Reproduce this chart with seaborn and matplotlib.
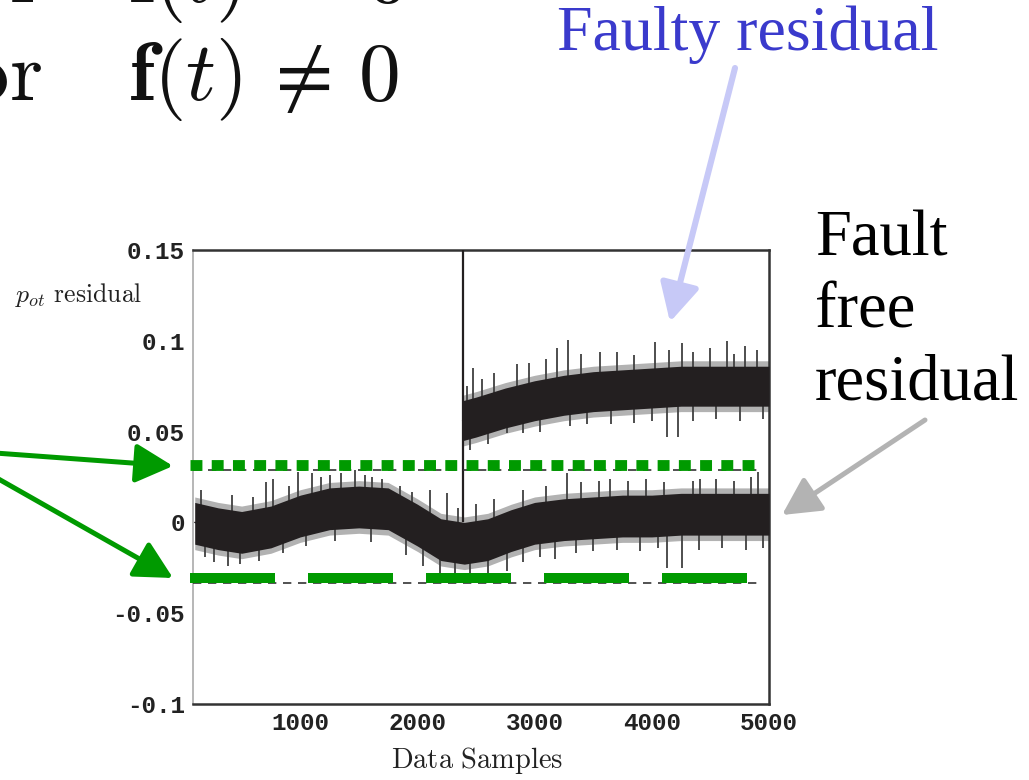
import numpy as np
import pandas as pd
import matplotlib
matplotlib.use("Agg")
import matplotlib.pyplot as plt
import seaborn as sns

# ---------------- data ----------------
t_ff = [100, 300, 500, 750, 1000, 1250, 1500, 1750, 2000, 2200, 2400, 2600, 2800,
        3000, 3250, 3500, 3750, 4000, 4250, 4500, 4750, 5000]
ff_mean = [0.000, -0.003, -0.005, -0.002, 0.004, 0.008, 0.009, 0.008, -0.001, -0.009,
           -0.011, -0.009, -0.004, 0.000, 0.002, 0.003, 0.004, 0.004, 0.005, 0.005, 0.005, 0.005]
ff_upper = [0.011, 0.008, 0.006, 0.009, 0.015, 0.019, 0.020, 0.019, 0.010, 0.002,
            0.000, 0.002, 0.007, 0.011, 0.013, 0.014, 0.015, 0.015, 0.016, 0.016, 0.016, 0.016]
ff_lower = [-0.012, -0.015, -0.017, -0.014, -0.008, -0.004, -0.003, -0.004, -0.013, -0.021,
            -0.023, -0.021, -0.016, -0.012, -0.010, -0.009, -0.008, -0.008, -0.007, -0.007, -0.007, -0.007]

t_fa = [2385, 2500, 2750, 3000, 3250, 3500, 3750, 4000, 4250, 4500, 4750, 5000]
fa_mean = [0.056, 0.058, 0.063, 0.067, 0.070, 0.072, 0.073, 0.074, 0.075, 0.075, 0.075, 0.075]
fa_upper = [0.067, 0.069, 0.074, 0.078, 0.081, 0.083, 0.084, 0.085, 0.086, 0.086, 0.086, 0.086]
fa_lower = [0.045, 0.047, 0.052, 0.056, 0.059, 0.061, 0.062, 0.063, 0.064, 0.064, 0.064, 0.064]

# visible spikes (sample, value)
ff_spike_t = [187, 486, 708, 768, 982, 1101, 1255, 1468, 1614, 2109, 2194, 2254, 2767,
              3176, 3279, 3646, 4133, 4261, 4415, 4910,
              150, 420, 600, 900, 1180, 1350, 1550, 1700, 1850, 1950, 2350, 2500, 2650, 2900,
              3100, 3400, 3550, 3800, 3950, 4100, 4350, 4550, 4700, 4850,
              260, 380, 650, 850, 1050, 1300, 1600, 1900, 2050, 2320, 2450, 2600, 2900, 3050,
              3350, 3500, 3700, 3900, 4050, 4400, 4600, 4800, 4950]
ff_spike_v = [-0.019, -0.023, 0.022, 0.024, 0.028, 0.027, 0.026, 0.029, 0.025, 0.018, -0.028,
              0.016, -0.027, -0.020, 0.027, 0.024, -0.025, -0.025, 0.024, 0.028,
              0.018, 0.015, 0.014, 0.020, 0.025, 0.027, 0.026, 0.024, 0.020, 0.017, 0.008, 0.010,
              0.013, 0.018, 0.020, 0.022, 0.023, 0.023, 0.024, 0.022, 0.023, 0.024, 0.023, 0.025,
              -0.022, -0.024, -0.021, -0.017, -0.013, -0.010, -0.011, -0.018, -0.024, -0.030,
              -0.030, -0.028, -0.022, -0.019, -0.017, -0.016, -0.015, -0.016, -0.014, -0.015,
              -0.014, -0.015, -0.014]

fa_spike_t = [2476, 2767, 3194, 3287, 3561, 4030, 4133, 4227, 4261, 4645, 4799,
              2420, 2550, 2650, 2850, 2950, 3100, 3400, 3700, 3850, 4150, 4350, 4500, 4700, 4900,
              2450, 2600, 2900, 3050, 3300, 3450, 3650, 3850, 4000, 4350, 4550, 4750, 4950]
fa_spike_v = [0.085, 0.049, 0.096, 0.1005, 0.094, 0.0995, 0.047, 0.047, 0.099, 0.100, 0.097,
              0.075, 0.079, 0.082, 0.087, 0.088, 0.090, 0.093, 0.094, 0.092, 0.095, 0.094, 0.096,
              0.093, 0.095,
              0.040, 0.043, 0.049, 0.050, 0.053, 0.054, 0.054, 0.055, 0.056, 0.056, 0.057, 0.056, 0.057]

fault_time = 2385
thr_black = [0.029, -0.0334]
thr_green_dotted = 0.0317
thr_green_dashed = -0.0306

y_ticks = [0.15, 0.1, 0.05, 0, -0.05, -0.1]
y_tick_labels = ["0.15", "0.1", "0.05", "0", "-0.05", "-0.1"]
x_ticks = [1000, 2000, 3000, 4000, 5000]
x_tick_labels = ["1000", "2000", "3000", "4000", "5000"]

# ---------------- figure ----------------
sns.set_theme(style="white")
plt.rcParams["mathtext.fontset"] = "cm"
W, H = 1029, 780
fig = plt.figure(figsize=(W / 100, H / 100), dpi=100)
ax = fig.add_axes([193 / W, (H - 704) / H, (769 - 193) / W, (704 - 250) / H])
ax.set_xlim(85, 5000)
ax.set_ylim(-0.1, 0.15)

dark = "#231f20"
df_ff = pd.DataFrame({"t": t_ff, "v": ff_mean})
df_fa = pd.DataFrame({"t": t_fa, "v": fa_mean})

halo = 0.003
ax.fill_between(t_ff, np.array(ff_lower) - halo, np.array(ff_upper) + halo, color="#555555", alpha=0.45, lw=0, zorder=1)
ax.fill_between(t_fa, np.array(fa_lower) - halo, np.array(fa_upper) + halo, color="#555555", alpha=0.45, lw=0, zorder=1)
ax.vlines(ff_spike_t, np.interp(ff_spike_t, t_ff, ff_mean), ff_spike_v, color="#404040", lw=1.3, zorder=2)
ax.vlines(fa_spike_t, np.interp(fa_spike_t, t_fa, fa_mean), fa_spike_v, color="#404040", lw=1.3, zorder=2)
ax.fill_between(t_ff, ff_lower, ff_upper, color=dark, lw=0, zorder=3)
ax.fill_between(t_fa, fa_lower, fa_upper, color=dark, lw=0, zorder=3)
sns.lineplot(data=df_ff, x="t", y="v", ax=ax, color=dark, lw=1, zorder=3)
sns.lineplot(data=df_fa, x="t", y="v", ax=ax, color=dark, lw=1, zorder=3)
ax.vlines([fault_time], 0.0, 0.16, color=dark, lw=1.6, zorder=3)

# thresholds
for v in thr_black:
    ax.plot([85, 4950], [v, v], color="#333333", lw=1.2, ls=(0, (5, 4)), zorder=4)
ax.plot([60, 4920], [thr_green_dotted] * 2, color="#009a00", lw=7.8,
        ls=(0, (1.1, 0.86)), solid_capstyle="butt", dash_capstyle="butt", zorder=5, clip_on=False)
ax.plot([60, 4850], [thr_green_dashed] * 2, color="#009a00", lw=7.2,
        ls=(0, (8.5, 3.3)), solid_capstyle="butt", dash_capstyle="butt", zorder=5, clip_on=False)

ax.set_xticks(x_ticks)
ax.set_xticklabels(x_tick_labels)
ax.set_yticks(y_ticks)
ax.set_yticklabels(y_tick_labels)
ax.set_xlabel("")
ax.set_ylabel("")
for lab in ax.get_xticklabels() + ax.get_yticklabels():
    lab.set_fontfamily("Liberation Mono")
    lab.set_fontweight("bold")
    lab.set_fontsize(17.5)
    lab.set_color("#222222")
ax.tick_params(axis="x", direction="in", length=5, width=1, color="#999999", pad=6)
ax.tick_params(axis="y", direction="out", length=4, width=1, color="#aaaaaa", pad=2)
for s in ["top", "right", "bottom"]:
    ax.spines[s].set_color("#333333")
    ax.spines[s].set_linewidth(1.8)
ax.spines["left"].set_color("#aaaaaa")
ax.spines["left"].set_linewidth(1.2)

def fx(px):
    return px / W

def fy(py):
    return (H - py) / H

# axis labels
fig.text(fx(15), fy(302), r"$p_{ot}$ $\mathrm{residual}$", fontsize=18.5, va="baseline", ha="left",
         color="#222222")
fig.text(fx(477), fy(768), r"$\mathrm{Data\ Samples}$", fontsize=20.5, va="baseline", ha="center",
         color="#222222")

# formula (top-left)
fig.text(fx(42), fy(100), r"$\mathrm{for}$", fontsize=61, va="baseline", ha="right", color="#111111")
fig.text(fx(128), fy(100), r"$\mathbf{f}(t)\,\neq\,0$", fontsize=60, va="baseline", ha="left", color="#111111")
fig.text(fx(42), fy(2), r"$\mathrm{for}$", fontsize=61, va="baseline", ha="right", color="#111111")
fig.text(fx(128), fy(2), r"$\mathbf{f}(t)\,=\,0$", fontsize=60, va="baseline", ha="left", color="#111111")

# callout texts
fig.text(fx(557), fy(50), "Faulty residual", fontsize=46, family="Liberation Serif",
         color="#3a3acc", va="baseline", ha="left")
for txt, by in [("Fault", 255), ("free", 328), ("residual", 400)]:
    fig.text(fx(815), fy(by), txt, fontsize=46.5, family="Liberation Serif",
             color="black", va="baseline", ha="left")

def arrow(tail, tip, color, lw=3.6):
    fig.add_artist(matplotlib.patches.FancyArrowPatch(
        (tail[0], H - tail[1]), (tip[0], H - tip[1]), transform=None,
        arrowstyle="-|>,head_length=1.15,head_width=0.6", mutation_scale=20,
        color=color, lw=lw, shrinkA=0, shrinkB=0))

arrow((735, 68), (670, 322), "#c7c9f7", lw=4.4)
arrow((925, 420), (782, 515), "#b3b3b3")
arrow((-5, 453), (173, 466), "#009a00")
arrow((-5, 477), (173, 578), "#009a00")

fig.savefig("out.png", dpi=100)
